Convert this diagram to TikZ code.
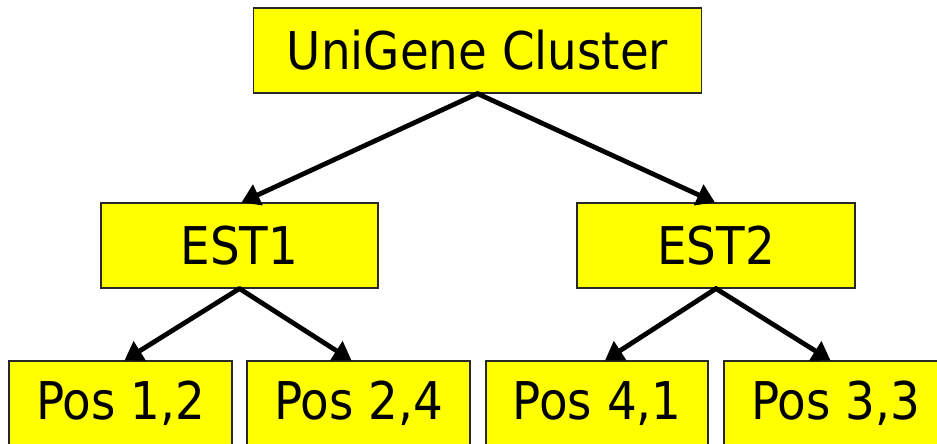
\documentclass[tikz,border=0pt]{standalone}
\usepackage{fontspec}
\setmainfont[FakeStretch=0.9]{DejaVu Sans}
\usetikzlibrary{arrows.meta}

\definecolor{boxfill}{RGB}{255,255,0}
\definecolor{boxline}{RGB}{40,40,40}

\tikzset{
  box/.style={draw=boxline, line width=1.2pt, fill=boxfill, minimum height=85pt,
              inner sep=0pt, font=\fontsize{52}{60}\selectfont},
  link/.style={line width=4.8pt, -{Triangle[length=18pt,width=22pt]}, shorten <=-1pt}
}

\begin{document}
\begin{tikzpicture}[x=1pt, y=-1pt]
  \useasboundingbox (0,0) rectangle (937,444);
  \clip (0,0) rectangle (937,444);

  % tree of boxes
  \node[box, minimum width=448pt] (root) at (477.5,50.5) {UniGene Cluster};
  \node[box, minimum width=277pt] (est1) at (239.5,245.5) {EST1};
  \node[box, minimum width=278pt] (est2) at (716,245.5) {EST2};
  \node[box, minimum width=223pt] (p12) at (120.5,403.5) {Pos 1,2};
  \node[box, minimum width=223pt] (p24) at (358.5,403.5) {Pos 2,4};
  \node[box, minimum width=222pt] (p41) at (597,403.5) {Pos 4,1};
  \node[box, minimum width=223pt] (p33) at (835.5,403.5) {Pos 3,3};

  % connectors
  \draw[link] (root.south) -- ([xshift=2pt]est1.north);
  \draw[link] (root.south) -- ([xshift=-1pt]est2.north);
  \draw[link] (est1.south) -- ([xshift=4pt]p12.north);
  \draw[link] (est1.south) -- ([xshift=-7pt]p24.north);
  \draw[link] (est2.south) -- ([xshift=8pt]p41.north);
  \draw[link] (est2.south) -- ([xshift=-5pt]p33.north);
\end{tikzpicture}
\end{document}
